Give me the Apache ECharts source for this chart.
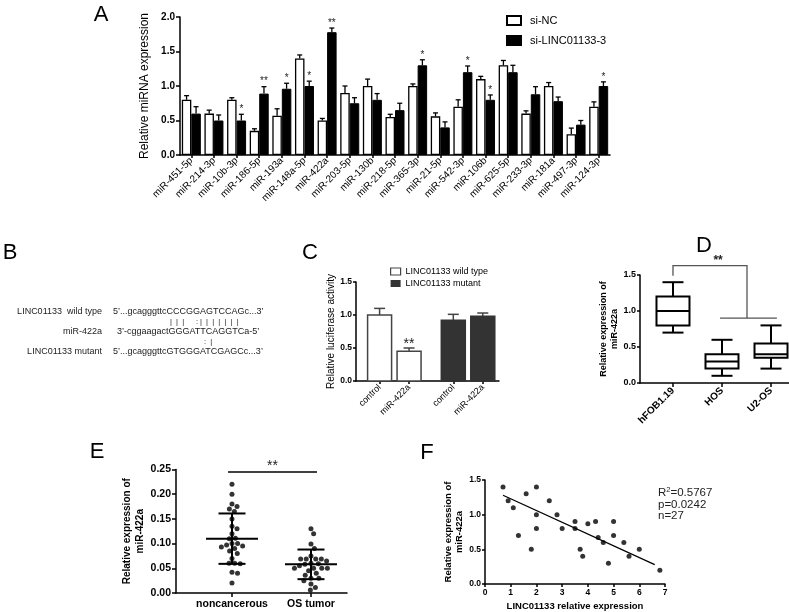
<!DOCTYPE html>
<html><head><meta charset="utf-8">
<script src="https://cdn.jsdelivr.net/npm/echarts@6/dist/echarts.min.js"></script>
<style>html,body{margin:0;padding:0;background:#fff}#c{width:789px;height:612px}</style>
</head><body><div id="c"></div>
<script>
// ---------- Panel A ----------
const mirnas = ['miR-451-5p','miR-214-3p','miR-10b-3p','miR-186-5p','miR-193a','miR-148a-5p','miR-422a','miR-203-5p','miR-130b','miR-218-5p','miR-365-3p','miR-21-5p','miR-542-3p','miR-106b','miR-625-5p','miR-233-3p','miR-181a','miR-497-3p','miR-124-3p'];
const siNC      = [0.80,0.60,0.80,0.35,0.57,1.40,0.50,0.90,1.00,0.55,1.00,0.56,0.70,1.10,1.30,0.60,1.00,0.30,0.70];
const siNCErr   = [0.06,0.05,0.03,0.03,0.10,0.05,0.03,0.10,0.10,0.04,0.03,0.05,0.10,0.04,0.07,0.04,0.05,0.09,0.07];
const siLINC    = [0.60,0.50,0.50,0.89,0.96,1.00,1.78,0.75,0.80,0.65,1.30,0.40,1.20,0.80,1.20,0.88,0.78,0.44,1.00];
const siLINCErr = [0.10,0.08,0.09,0.10,0.08,0.07,0.06,0.08,0.09,0.10,0.08,0.08,0.09,0.07,0.10,0.11,0.06,0.06,0.06];
const siLINCSig = ['','','*','**','*','*','**','','','','*','','*','*','','','','','*'];
const yTicksA = [0, 2.0, 0.5];

// ---------- Panel C ----------
const lucCats = ['control','miR-422a','control','miR-422a'];
const lucWild = [1.00, 0.45];
const lucWildErr = [0.10, 0.05];
const lucWildSig = ['', '**'];
const lucMut = [0.92, 0.98];
const lucMutErr = [0.09, 0.05];

// ---------- Panel D ----------
const cellLines = ['hFOB1.19','HOS','U2-OS'];
const boxMin = [0.70, 0.10, 0.20];
const boxQ1  = [0.80, 0.20, 0.35];
const boxMed = [1.00, 0.30, 0.40];
const boxQ3  = [1.20, 0.40, 0.55];
const boxMax = [1.40, 0.60, 0.80];
const dSigFrom = [0, 1.49];
const dSigTop = 1.63;
const dSigTo = [1.51, 0.90];
const dSigSpan = [0.96, 2.12];
const dSigStar = [0.92, '**'];

// ---------- Panel E ----------
const tissueGroups = ['noncancerous','OS tumor'];
const nonCancerous = [0.22,0.20,0.18,0.175,0.17,0.165,0.15,0.135,0.13,0.12,0.111,0.11,0.10,0.10,0.097,0.095,0.093,0.09,0.085,0.08,0.07,0.06,0.06,0.059,0.042,0.04,0.02];
const osTumor = [0.13,0.12,0.099,0.09,0.075,0.069,0.069,0.069,0.069,0.065,0.06,0.059,0.058,0.055,0.05,0.05,0.05,0.05,0.045,0.04,0.036,0.03,0.03,0.025,0.018,0.011,0.006];
const groupMean = [0.110, 0.058];
const groupSD = [0.051, 0.030];
const eSig = [-0.05, 1.076, 0.245, '**'];

// ---------- Panel F ----------
const lincExpr = [0.7,0.9,1.1,1.3,1.6,1.8,2.0,2.0,2.0,2.5,2.8,3.0,3.5,3.5,3.7,3.8,4.0,4.3,4.4,4.6,4.8,5.0,5.0,5.4,5.6,6.0,6.8];
const mir422a  = [1.4,1.2,1.1,0.7,1.3,0.5,1.4,1.0,0.8,1.2,1.0,0.8,0.9,0.8,0.5,0.4,0.87,0.9,0.67,0.6,0.3,0.9,0.7,0.6,0.4,0.5,0.2];
const fitX = [0.7, 6.6];
const fitY = [1.28, 0.28];
const statText = ['R{s|2}=0.5767', 'p=0.0242', 'n=27'];

// ---------- helpers ----------
const FONT = '"Liberation Sans", Arial, Helvetica, sans-serif';
const BLK = '#000';
const axLine = {show:true, onZero:false, lineStyle:{color:BLK, width:1.5}};
const tick = (len, extra)=>Object.assign({show:true, length:len, lineStyle:{color:BLK, width:1.5}}, extra||{});
const lbl = (size, bold, extra)=>Object.assign({color:BLK, fontSize:size, fontWeight:bold?'bold':'normal', fontFamily:FONT}, extra||{});
const noSplit = {show:false};
function txt(x,y,text,size,opt){
  opt=opt||{};
  return {type:'text', x:x, y:y, silent:true, style:{text:text, fontSize:size, fontFamily:FONT, fontWeight:opt.bold?'bold':'normal',
    fill:opt.color||BLK, textAlign:opt.align||'left', align:opt.align||'left', textVerticalAlign:'middle', verticalAlign:'middle', rich:opt.rich}};
}

const chart = echarts.init(document.getElementById('c'));

// Panel A error bars
const BW = 9.5;
const errA = [], errASig = [];
mirnas.forEach((m,i)=>{
  errA.push([i, siNC[i], siNCErr[i], -1]); errASig.push('');
  errA.push([i, siLINC[i], siLINCErr[i], 1]); errASig.push(siLINCSig[i]);
});

// Panel C positions (gap between the two constructs)
const lucPos = lucCats.map((c,i)=> i + (i>=2 ? 0.5 : 0));
function lucRender(fill, stroke, sig){
  return function(params, api){
    const x=api.value(0), v=api.value(1), e=api.value(2);
    const p0=api.coord([x,0]), p1=api.coord([x,v]), p2=api.coord([x,v+e]);
    const w=24, cx=p0[0];
    const ch=[
      {type:'line', shape:{x1:cx,y1:p1[1],x2:cx,y2:p2[1]}, style:{stroke:'#444',lineWidth:1.5}},
      {type:'line', shape:{x1:cx-5.5,y1:p2[1],x2:cx+5.5,y2:p2[1]}, style:{stroke:'#444',lineWidth:1.5}},
      {type:'rect', shape:{x:cx-w/2,y:p1[1],width:w,height:p0[1]-p1[1]}, style:{fill:fill,stroke:stroke,lineWidth:1.5}}
    ];
    const s = sig ? sig[params.dataIndex] : '';
    if(s) ch.push({type:'text', style:{text:s, x:cx, y:p2[1]-4, fontSize:14, fontFamily:FONT, fill:'#222', align:'center', textAlign:'center', verticalAlign:'middle', textVerticalAlign:'middle'}});
    return {type:'group', children:ch};
  };
}

// Panel D positions
const dPos = cellLines.map((c,i)=>i);
// Panel E positions & beeswarm
const ePos = tissueGroups.map((c,i)=>i);
function swarm(vals, pxX, pxY, d){
  const placed=[], xs=[];
  vals.forEach((v,i)=>{
    const y=v*pxY, cands=[0];
    placed.forEach(p=>{const dy=Math.abs(p.y-y); if(dy<d){const dx=Math.sqrt(d*d-dy*dy); cands.push(p.x+dx,p.x-dx);}});
    cands.sort((a,b)=>Math.abs(a)-Math.abs(b)||b-a);
    let best=0;
    for(const c of cands){ if(placed.every(p=>Math.hypot(p.x-c,p.y-y)>=d-1e-6)){best=c;break;} }
    placed.push({x:best,y:y}); xs.push(best/pxX);
  });
  return xs;
}
const E_XMIN=-0.709, E_XMAX=1.456, E_W=171, E_H=123.5, E_YMAX=0.25;
const pxX = E_W/(E_XMAX-E_XMIN), pxY = E_H/E_YMAX;
const eData = [];
[nonCancerous, osTumor].forEach((vals,g)=>{
  const xs = swarm(vals, pxX, pxY, 5.6);
  vals.forEach((v,i)=>eData.push([ePos[g]+xs[i], v]));
});

const option = {
  animation:false,
  backgroundColor:'#fff',
  textStyle:{fontFamily:FONT},
  grid:[
    {left:180, top:17, width:430, height:138},
    {left:356, top:282, width:143, height:99},
    {left:640, top:275, width:149, height:108},
    {left:176, top:469.5, width:171, height:123.5},
    {left:485, top:480, width:180, height:104}
  ],
  legend:[
    {left:501, top:10, orient:'vertical', itemWidth:14, itemHeight:9, itemGap:9, textStyle:lbl(11,false,{padding:[0,0,0,4]}),
     data:[{name:'si-NC', icon:'rect'}, {name:'si-LINC01133-3', icon:'rect'}]},
    {left:385, top:262, orient:'vertical', itemWidth:10, itemHeight:7, itemGap:3, textStyle:lbl(9,false,{padding:[0,0,0,0]}),
     data:[{name:'LINC01133 wild type', icon:'rect', itemStyle:{color:'#fff', borderColor:'#444', borderWidth:1.2}},
           {name:'LINC01133 mutant', icon:'rect', itemStyle:{color:'#333', borderWidth:0}}]}
  ],
  xAxis:[
    {gridIndex:0, type:'category', data:mirnas, axisLine:axLine, axisTick:tick(3,{alignWithLabel:true}),
     axisLabel:lbl(10,false,{rotate:45, interval:0, margin:4})},
    {gridIndex:1, type:'value', min:-0.8, max:4.05, splitLine:noSplit, axisLine:axLine,
     axisTick:tick(3,{customValues:lucPos}),
     axisLabel:lbl(9,false,{customValues:lucPos, rotate:45, margin:5, formatter:v=>lucCats[lucPos.indexOf(v)]||''})},
    {gridIndex:2, type:'value', min:-0.673, max:2.367, splitLine:noSplit, axisLine:axLine,
     axisTick:tick(4,{customValues:dPos}),
     axisLabel:lbl(10,true,{customValues:dPos, rotate:45, margin:6, formatter:v=>cellLines[v]||''})},
    {gridIndex:3, type:'value', min:E_XMIN, max:E_XMAX, splitLine:noSplit, axisLine:axLine,
     axisTick:tick(4,{customValues:ePos}),
     axisLabel:lbl(10.5,true,{customValues:ePos, margin:6, formatter:v=>tissueGroups[v]||''})},
    {gridIndex:4, type:'value', min:0, max:7, interval:1, splitLine:noSplit, axisLine:axLine, axisTick:tick(3),
     axisLabel:lbl(8.5,true,{margin:4}),
     name:'LINC01133 relative expression', nameLocation:'middle', nameGap:17, nameTextStyle:lbl(9.5,true)}
  ],
  yAxis:[
    {gridIndex:0, type:'value', min:yTicksA[0], max:yTicksA[1], interval:yTicksA[2], splitLine:noSplit, axisLine:axLine, axisTick:tick(4),
     axisLabel:lbl(10,true,{margin:5, formatter:v=>v.toFixed(1)}),
     name:'Relative miRNA expression', nameLocation:'middle', nameRotate:90, nameGap:18, nameTextStyle:lbl(12,false)},
    {gridIndex:1, type:'value', min:0, max:1.5, interval:0.5, splitLine:noSplit, axisLine:axLine, axisTick:tick(3),
     axisLabel:lbl(8.5,true,{margin:4, formatter:v=>v.toFixed(1)}),
     name:'Relative luciferase activity', nameLocation:'middle', nameRotate:90, nameGap:18, nameTextStyle:lbl(10,false)},
    {gridIndex:2, type:'value', min:0, max:1.5, interval:0.5, splitLine:noSplit, axisLine:axLine, axisTick:tick(3),
     axisLabel:lbl(9,true,{margin:4, formatter:v=>v.toFixed(1)}),
     name:'Relative expression of\nmiR-422a', nameLocation:'middle', nameRotate:90, nameGap:16, nameTextStyle:lbl(9,true,{lineHeight:11})},
    {gridIndex:3, type:'value', min:0, max:E_YMAX, interval:0.05, splitLine:noSplit, axisLine:axLine, axisTick:tick(4),
     axisLabel:lbl(10.5,true,{margin:5, formatter:v=>v.toFixed(2)}),
     name:'Relative expression of\nmiR-422a', nameLocation:'middle', nameRotate:90, nameGap:20, nameTextStyle:lbl(10,true,{lineHeight:13})},
    {gridIndex:4, type:'value', min:0, max:1.5, interval:0.5, splitLine:noSplit, axisLine:axLine, axisTick:tick(3),
     axisLabel:lbl(8.5,true,{margin:4, formatter:v=>v.toFixed(1)}),
     name:'Relative expression of\nmiR-422a', nameLocation:'middle', nameRotate:90, nameGap:18, nameTextStyle:lbl(9.5,true,{lineHeight:11})}
  ],
  series:[
    {type:'bar', name:'si-NC', xAxisIndex:0, yAxisIndex:0, data:siNC, barWidth:BW, barGap:'0%',
     itemStyle:{color:'#fff', borderColor:BLK, borderWidth:1.3}},
    {type:'bar', name:'si-LINC01133-3', xAxisIndex:0, yAxisIndex:0, data:siLINC, barWidth:BW, barGap:'0%',
     itemStyle:{color:BLK, borderColor:BLK, borderWidth:1}},
    {type:'custom', name:'errA', xAxisIndex:0, yAxisIndex:0, data:errA, z:5,
     renderItem:function(params, api){
       const i=api.value(0), v=api.value(1), e=api.value(2), side=api.value(3);
       const p0=api.coord([i,v]), p1=api.coord([i,v+e]);
       const x=p0[0]+side*BW/2;
       const ch=[
         {type:'line', shape:{x1:x,y1:p0[1],x2:x,y2:p1[1]}, style:{stroke:BLK,lineWidth:1.3}},
         {type:'line', shape:{x1:x-2.5,y1:p1[1],x2:x+2.5,y2:p1[1]}, style:{stroke:BLK,lineWidth:1.3}}
       ];
       const s=errASig[params.dataIndex];
       if(s) ch.push({type:'text', style:{text:s, x:x, y:p1[1]-5, fontSize:10, fontFamily:FONT, fill:'#222', align:'center', textAlign:'center', verticalAlign:'middle', textVerticalAlign:'middle'}});
       return {type:'group', children:ch};
     }},
    {type:'custom', name:'LINC01133 wild type', xAxisIndex:1, yAxisIndex:1, itemStyle:{color:'#fff'},
     data:lucWild.map((v,i)=>[lucPos[i], v, lucWildErr[i]]), renderItem:lucRender('#fff','#444',lucWildSig)},
    {type:'custom', name:'LINC01133 mutant', xAxisIndex:1, yAxisIndex:1, itemStyle:{color:'#333'},
     data:lucMut.map((v,i)=>[lucPos[i+2], v, lucMutErr[i]]), renderItem:lucRender('#333','#333',null)},
    {type:'custom', name:'boxD', xAxisIndex:2, yAxisIndex:2,
     data:cellLines.map((c,i)=>[dPos[i], boxMin[i], boxQ1[i], boxMed[i], boxQ3[i], boxMax[i]]),
     renderItem:function(params, api){
       const x=api.value(0);
       const pm=api.coord([x,api.value(1)]), q1=api.coord([x,api.value(2)]), md=api.coord([x,api.value(3)]),
             q3=api.coord([x,api.value(4)]), px=api.coord([x,api.value(5)]);
       const cx=pm[0], bw=33, cw=21, st={stroke:BLK, lineWidth:2, fill:null};
       const L=(x1,y1,x2,y2)=>({type:'line', shape:{x1,y1,x2,y2}, style:st});
       return {type:'group', children:[
         L(cx,px[1],cx,q3[1]), L(cx,q1[1],cx,pm[1]),
         L(cx-cw/2,px[1],cx+cw/2,px[1]), L(cx-cw/2,pm[1],cx+cw/2,pm[1]),
         {type:'rect', shape:{x:cx-bw/2,y:q3[1],width:bw,height:q1[1]-q3[1]}, style:{stroke:BLK,lineWidth:2,fill:'#fff'}},
         L(cx-bw/2,md[1],cx+bw/2,md[1])
       ]};
     }},
    {type:'custom', name:'sigD', xAxisIndex:2, yAxisIndex:2, data:[[0]], clip:false,
     renderItem:function(params, api){
       const a=api.coord([dSigFrom[0],dSigFrom[1]]), t1=api.coord([dSigFrom[0],dSigTop]), t2=api.coord([dSigTo[0],dSigTop]),
             b=api.coord([dSigTo[0],dSigTo[1]]), s1=api.coord([dSigSpan[0],dSigTo[1]]), s2=api.coord([dSigSpan[1],dSigTo[1]]),
             st=api.coord([dSigStar[0],dSigTop]);
       const sty={stroke:'#555', lineWidth:1.3, fill:null};
       return {type:'group', children:[
         {type:'polyline', shape:{points:[a,t1,t2,b]}, style:sty},
         {type:'line', shape:{x1:s1[0],y1:s1[1],x2:s2[0],y2:s2[1]}, style:sty},
         {type:'text', style:{text:dSigStar[1], x:st[0], y:st[1]-5, fontSize:12, fontWeight:'bold', fontFamily:FONT, fill:'#222', align:'center', textAlign:'center', verticalAlign:'middle', textVerticalAlign:'middle'}}
       ]};
     }},
    {type:'scatter', name:'dotsE', xAxisIndex:3, yAxisIndex:3, data:eData, symbolSize:5, itemStyle:{color:BLK}},
    {type:'custom', name:'meanE', xAxisIndex:3, yAxisIndex:3, z:4,
     data:tissueGroups.map((g,i)=>[ePos[i], groupMean[i], groupSD[i]]),
     renderItem:function(params, api){
       const x=api.value(0), m=api.value(1), s=api.value(2);
       const pm=api.coord([x,m]), ph=api.coord([x,m+s]), pl=api.coord([x,m-s]);
       const cx=pm[0], st={stroke:BLK, lineWidth:2};
       return {type:'group', children:[
         {type:'line', shape:{x1:cx-26,y1:pm[1],x2:cx+26,y2:pm[1]}, style:st},
         {type:'line', shape:{x1:cx,y1:ph[1],x2:cx,y2:pl[1]}, style:st},
         {type:'line', shape:{x1:cx-13.5,y1:ph[1],x2:cx+13.5,y2:ph[1]}, style:st},
         {type:'line', shape:{x1:cx-13.5,y1:pl[1],x2:cx+13.5,y2:pl[1]}, style:st}
       ]};
     }},
    {type:'custom', name:'sigE', xAxisIndex:3, yAxisIndex:3, data:[[0]], clip:false,
     renderItem:function(params, api){
       const a=api.coord([eSig[0],eSig[2]]), b=api.coord([eSig[1],eSig[2]]);
       return {type:'group', children:[
         {type:'line', shape:{x1:a[0],y1:a[1],x2:b[0],y2:b[1]}, style:{stroke:BLK,lineWidth:1.5}},
         {type:'text', style:{text:eSig[3], x:(a[0]+b[0])/2, y:a[1]-6, fontSize:14, fontFamily:FONT, fill:'#222', align:'center', textAlign:'center', verticalAlign:'middle', textVerticalAlign:'middle'}}
       ]};
     }},
    {type:'scatter', name:'dotsF', xAxisIndex:4, yAxisIndex:4, data:lincExpr.map((x,i)=>[x, mir422a[i]]), symbolSize:5, itemStyle:{color:BLK}},
    {type:'line', name:'fitF', xAxisIndex:4, yAxisIndex:4, data:fitX.map((x,i)=>[x, fitY[i]]), symbol:'none', lineStyle:{color:BLK, width:1.3}}
  ],
  graphic:[
    txt(101,15,'A',22,{align:'center'}),
    txt(10,253,'B',22,{align:'center'}),
    txt(310,253,'C',22,{align:'center'}),
    txt(704,246,'D',22,{align:'center'}),
    txt(97,452,'E',22,{align:'center'}),
    txt(427,453,'F',22,{align:'center'}),
    txt(102,312,'LINC01133  wild type',9,{align:'right',color:'#222'}),
    txt(113,312,'5’...gcagggttcCCCGGAGTCCAGc...3’',9,{color:'#222'}),
    txt(170,321.5,'|  |  |',7.5,{color:'#222'}),
    txt(196,321.5,':',7.5,{color:'#222'}),
    txt(200,321.5,'|  |  |  |  |  |  |',7.5,{color:'#222'}),
    txt(102,332,'miR-422a',9,{align:'right',color:'#222'}),
    txt(117,332,'3’-cggaagactGGGATTCAGGTCa-5’',9,{color:'#222'}),
    txt(204,341.5,':  |',7.5,{color:'#222'}),
    txt(102,352,'LINC01133 mutant',9,{align:'right',color:'#222'}),
    txt(113,352,'5’...gcagggttcGTGGGATCGAGCc...3’',9,{color:'#222'}),
    txt(658,493,statText[0],11.5,{color:'#222', rich:{s:{fontSize:7.5, fontFamily:FONT, fill:'#222', padding:[0,0,6,0]}}}),
    txt(658,504.5,statText[1],11.5,{color:'#222'}),
    txt(658,516,statText[2],11.5,{color:'#222'})
  ]
};
chart.setOption(option);
</script>
</body></html>
